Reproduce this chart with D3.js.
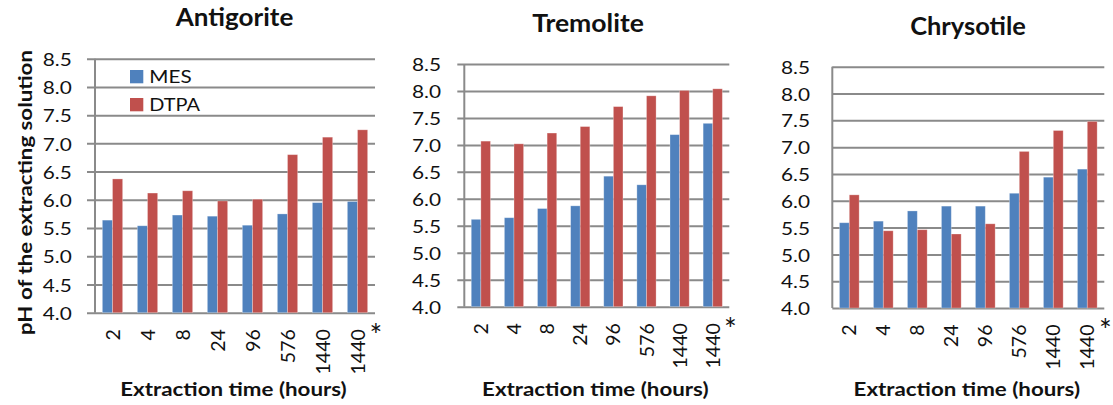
<!DOCTYPE html>
<html>
<head>
<meta charset="utf-8">
<script src="https://cdn.jsdelivr.net/npm/d3@7"></script>
<style>
  html, body { margin: 0; padding: 0; background: #fff; }
  svg { display: block; font-family: "Lato", "Open Sans", sans-serif; }
</style>
</head>
<body>
<svg id="chart" width="1113" height="405"></svg>
<script>
// ---- data ----
const categories = ["2", "4", "8", "24", "96", "576", "1440", "1440*"];
const seriesNames = ["MES", "DTPA"];
const panelTitles = ["Antigorite", "Tremolite", "Chrysotile"];
const antigoriteMES  = [5.64, 5.54, 5.73, 5.71, 5.55, 5.75, 5.95, 5.97];
const antigoriteDTPA = [6.37, 6.12, 6.16, 5.98, 6.01, 6.80, 7.11, 7.24];
const tremoliteMES   = [5.62, 5.65, 5.82, 5.87, 6.42, 6.26, 7.19, 7.40];
const tremoliteDTPA  = [7.07, 7.02, 7.22, 7.34, 7.71, 7.91, 8.01, 8.04];
const chrysotileMES  = [5.59, 5.62, 5.81, 5.90, 5.90, 6.14, 6.44, 6.59];
const chrysotileDTPA = [6.11, 5.44, 5.46, 5.38, 5.57, 6.92, 7.31, 7.48];
const yTickValues = [4.0, 4.5, 5.0, 5.5, 6.0, 6.5, 7.0, 7.5, 8.0, 8.5];
const xAxisTitle = "Extraction time (hours)";
const yAxisTitle = "pH of the extracting solution";

// ---- layout / style ----
const colors = { MES: "#4F81BD", DTPA: "#C0504D" };
const gridColor = "#8a8a8a";
const panels = [
  { title: panelTitles[0], mes: antigoriteMES, dtpa: antigoriteDTPA,
    left: 95, right: 375, top: 58.7, bottom: 312.7, tick: 8,
    titleX: 234.5, titleY: 26, titleW: 117.6, tickRight: 71.7, legend: true },
  { title: panelTitles[1], mes: tremoliteMES, dtpa: tremoliteDTPA,
    left: 464.3, right: 729.3, top: 64, bottom: 306.7, tick: 7,
    titleX: 588, titleY: 32.3, titleW: 111.7, tickRight: 441, legend: false },
  { title: panelTitles[2], mes: chrysotileMES, dtpa: chrysotileDTPA,
    left: 832.3, right: 1104.3, top: 66.7, bottom: 308, tick: 0,
    titleX: 968, titleY: 35, titleW: 115.7, tickRight: 810, legend: false }
];

const svg = d3.select("#chart");

function fitWidth(sel, w) {
  sel.attr("textLength", w).attr("lengthAdjust", "spacingAndGlyphs");
}

panels.forEach((p, i) => {
  const g = svg.append("g");
  const y = d3.scaleLinear().domain([4.0, 8.5]).range([p.bottom, p.top]);
  const x0 = d3.scaleBand().domain(categories).range([p.left, p.right]).padding(0);
  const step = x0.step();
  const x1 = d3.scaleBand().domain(seriesNames).range([step * 0.21, step * 0.79]).padding(0);

  // gridlines + outward ticks
  const yAxis = d3.axisLeft(y).tickValues(yTickValues)
    .tickSize(-(p.right - p.left)).tickFormat("");
  const ga = g.append("g").attr("transform", `translate(${p.left},0)`).call(yAxis);
  ga.select(".domain").remove();
  ga.selectAll(".tick line")
    .attr("x1", -p.tick)
    .attr("stroke", gridColor).attr("stroke-width", 2);

  // y axis line
  g.append("line")
    .attr("x1", p.left).attr("x2", p.left)
    .attr("y1", y(8.5)).attr("y2", y(4.0))
    .attr("stroke", gridColor).attr("stroke-width", 2);

  // y tick labels
  const labels = g.append("g").selectAll("text").data(yTickValues).join("text")
    .attr("font-size", 17)
    .attr("fill", "#111")
    .attr("text-anchor", "end")
    .attr("dy", "0.42em")
    .text(d => d3.format(".1f")(d));
  const natural = labels.node().getComputedTextLength();
  const sx = 29 / natural;
  labels.attr("transform", d => `translate(${p.tickRight},${y(d)}) scale(${sx},1)`);

  // bars
  const rows = categories.map((c, k) => ({ cat: c, MES: p.mes[k], DTPA: p.dtpa[k] }));
  const grp = g.append("g").selectAll("g").data(rows).join("g")
    .attr("transform", d => `translate(${x0(d.cat)},0)`);
  grp.selectAll("rect").data(d => seriesNames.map(s => ({ s, v: d[s] }))).join("rect")
    .attr("x", d => x1(d.s))
    .attr("width", x1.bandwidth())
    .attr("y", d => y(d.v))
    .attr("height", d => y(4.0) - y(d.v))
    .attr("fill", d => colors[d.s])
    .attr("stroke", "rgba(255,255,255,0.35)")
    .attr("stroke-width", 0.8);

  // x tick labels (rotated)
  g.append("g").selectAll("text").data(categories).join("text")
    .attr("font-size", 19.5)
    .attr("fill", "#111")
    .attr("text-anchor", "end")
    .attr("dy", "0.36em")
    .attr("transform", d => `translate(${x0(d) + step / 2},${p.bottom + 16.5}) rotate(-90)`)
    .text(d => d.replace("*", ""));
  // asterisk marker for the last category
  g.append("text")
    .attr("x", p.right + 1)
    .attr("y", p.bottom + 33)
    .attr("text-anchor", "middle")
    .attr("font-size", 30)
    .attr("fill", "#111")
    .text("*");

  // title
  g.append("text")
    .attr("x", p.titleX).attr("y", p.titleY)
    .attr("text-anchor", "middle")
    .attr("font-size", 24.5).attr("font-weight", "bold")
    .attr("fill", "#111")
    .text(p.title)
    .call(fitWidth, p.titleW);

  // x axis title
  g.append("text")
    .attr("x", (p.left + p.right) / 2 - 1.5).attr("y", 396)
    .attr("text-anchor", "middle")
    .attr("font-size", 18.5).attr("font-weight", "bold")
    .attr("fill", "#111")
    .text(xAxisTitle)
    .call(fitWidth, 226.5);

  // legend
  if (p.legend) {
    const lg = g.append("g");
    seriesNames.forEach((s, k) => {
      const ly = 70 + k * 28;
      lg.append("rect").attr("x", 130).attr("y", ly).attr("width", 13.3).attr("height", 13.3)
        .attr("fill", colors[s]);
      lg.append("text").attr("x", 149.3).attr("y", ly + 13.3)
        .attr("font-size", 18).attr("fill", "#111")
        .text(s)
        .call(fitWidth, s === "MES" ? 42.3 : 50.7);
    });
  }
});

// y axis title
svg.append("text")
  .attr("transform", "translate(32,192.5) rotate(-90)")
  .attr("text-anchor", "middle")
  .attr("font-size", 19.5).attr("font-weight", "bold")
  .attr("fill", "#111")
  .text(yAxisTitle)
  .call(fitWidth, 285);
</script>
</body>
</html>
